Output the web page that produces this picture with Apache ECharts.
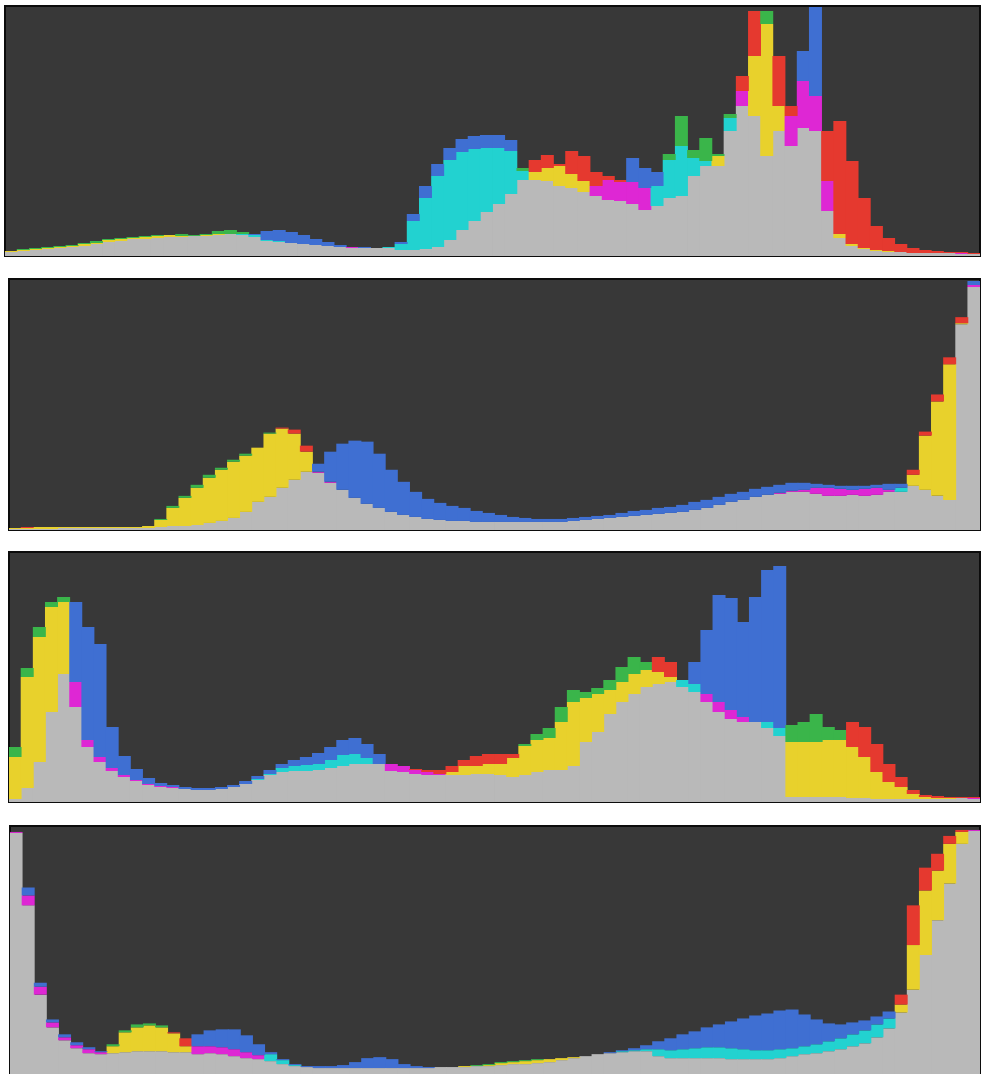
<!DOCTYPE html>
<html lang="en">
<head>
    <meta charset="UTF-8">
    <title>RGB Histograms</title>
    <script src="https://cdn.jsdelivr.net/npm/echarts@6/dist/echarts.min.js"></script>
    <style>
        html, body, #chart {
            width: 983px;
            height: 1074px;
            padding: 0;
            margin: 0;
            background: #fff;
            overflow: hidden;
        }
    </style>
</head>
<body>
<div id="chart"></div>
<script>
    // 80 bins per histogram, heights per channel
    var p1R = [5,6,7,8,9,10,12,13,16,17, 18,19,20,21,20,20,21,22,22,21, 19,15,14,13,12,11,10,9,9,8,
        8,8,6,6,7,9,16,26,35,44, 52,62,76,96,101,92,105,100,84,80, 76,74,68,50,58,60,80,90,100,125,
        180,245,232,200,150,175,160,125,135,95, 58,30,18,12,8,6,5,4,4,3];
    var p1G = [5,7,8,9,10,11,13,15,17,18, 19,20,21,21,22,21,22,25,26,24, 21,16,15,13,12,11,10,9,8,8,
        8,9,12,35,58,80,96,104,107,108, 108,105,88,84,88,90,82,75,60,56, 55,52,46,70,102,140,106,118,102,142,
        150,200,245,150,110,128,125,45,22,12, 8,6,5,4,3,3,3,3,2,2];
    var p1B = [4,5,6,7,8,9,10,12,14,15, 17,17,18,19,19,20,20,21,22,22, 22,25,26,24,21,17,14,11,9,9,
        8,9,14,42,70,92,108,117,120,121, 121,116,85,76,75,70,68,64,70,76, 74,98,88,84,96,110,98,95,90,138,
        165,140,100,125,140,205,249,75,18,10, 7,5,4,4,3,3,3,3,3,2];

    var p2R = [2,3,3,3,3,3,3,3,3,3, 3,4,10,22,32,42,52,60,68,74, 82,96,102,100,84,58,48,40,32,26,
        22,18,15,13,11,10,9,9,8,8, 8,8,8,8,8,8,9,10,11,12, 13,14,15,16,17,18,20,22,25,28,
        30,33,35,37,39,40,42,42,41,40, 41,42,40,38,60,98,135,172,212,244];
    var p2G = [2,2,3,3,3,3,3,3,3,3, 3,4,11,24,34,45,55,62,70,76, 82,97,101,96,78,57,47,40,32,26,
        22,18,15,13,11,10,9,9,8,8, 8,8,8,8,8,8,9,10,11,12, 13,14,15,16,17,18,20,22,25,28,
        30,33,35,36,38,38,36,34,34,35, 34,35,38,42,55,94,128,165,206,242];
    var p2B = [1,1,1,1,2,2,2,2,2,2, 2,2,3,4,4,5,7,9,12,18, 28,33,42,50,58,66,78,86,89,88,
        76,60,48,38,31,27,24,22,19,17, 15,13,12,11,11,11,12,13,14,15, 17,19,20,22,23,25,28,30,33,36,
        38,41,43,45,47,47,46,45,44,44, 44,45,46,46,44,40,34,30,205,248];

    var p3R = [45,125,165,195,200,120,62,45,34,27, 22,18,16,15,13,12,12,13,15,18, 22,27,30,31,31,32,34,36,38,38,
        38,38,36,33,32,32,36,42,46,48, 48,48,56,62,64,80,100,104,108,112, 120,128,132,145,140,115,110,108,100,92,
        85,80,74,66,60,60,60,62,62,80, 75,58,38,25,12,7,6,5,5,5];
    var p3G = [55,134,175,200,205,95,55,40,31,25, 21,17,15,14,13,12,12,13,15,18, 23,28,34,36,37,38,42,47,48,44,
        38,31,30,28,27,27,30,36,36,38, 38,44,58,68,74,95,112,110,114,122, 135,145,140,130,125,122,118,100,90,83,
        80,80,80,74,77,80,88,75,72,55, 45,30,20,15,8,5,4,4,4,3];
    var p3B = [3,14,40,90,128,200,175,158,75,46, 33,24,19,17,15,14,14,15,17,21, 26,32,38,42,45,49,55,62,64,58,
        48,38,36,32,30,28,27,27,28,28, 27,25,27,30,32,32,36,60,70,88, 100,108,115,118,120,122,140,172,207,204,
        180,205,232,236,5,5,5,5,5,4, 4,3,3,3,3,3,3,3,4,4];

    var p4R = [244,180,88,52,37,29,25,22,28,42, 47,49,47,42,36,28,28,27,25,22, 19,13,10,8,7,6,6,6,6,6,
        6,6,6,6,6,7,7,8,8,9, 11,12,13,14,15,16,17,18,20,21, 22,23,23,18,16,16,16,16,16,15,
        15,15,15,16,18,20,21,23,25,28, 31,37,46,80,170,208,222,240,246,246];
    var p4G = [243,170,80,47,34,26,21,20,30,44, 50,51,49,41,28,20,21,20,18,16, 15,20,14,9,7,6,6,6,6,6,
        6,6,6,6,6,7,7,8,9,10, 12,13,14,15,15,16,17,18,20,21, 23,24,25,25,24,25,26,27,27,26,
        25,24,24,25,26,28,30,33,36,40, 44,50,56,70,130,185,205,232,244,245];
    var p4B = [244,188,92,55,40,32,27,23,21,22, 23,23,23,22,22,40,44,45,45,39, 30,22,15,10,8,8,8,9,12,16,
        17,15,10,8,7,7,7,7,8,8, 9,10,10,11,12,14,16,18,20,22, 24,26,29,33,36,40,43,47,50,53,
        56,59,61,64,65,60,55,51,50,52, 54,58,63,62,85,120,155,192,232,246];

    var panels = [
        {r: p1R, g: p1G, b: p1B, left: 5, top: 6, width: 975, height: 250},
        {r: p2R, g: p2G, b: p2B, left: 9, top: 279, width: 971, height: 251},
        {r: p3R, g: p3G, b: p3B, left: 9, top: 552, width: 971, height: 250},
        {r: p4R, g: p4G, b: p4B, left: 10, top: 826, width: 970, height: 250}
    ];

    var GRAY = "#b9b9b9";
    var PURE = {r: "#e5392f", g: "#3ab54a", b: "#3f6fd2"};
    var MIX = {rg: "#e8d12c", gr: "#e8d12c", gb: "#22d2d0", bg: "#22d2d0", rb: "#de27d4", br: "#de27d4"};

    function item(v, color) {
        return {value: v, itemStyle: {color: color}};
    }

    var grids = [], xAxes = [], yAxes = [], series = [];
    panels.forEach(function (p, k) {
        grids.push({
            left: p.left, top: p.top, width: p.width, height: p.height,
            show: true, backgroundColor: "#383838", borderColor: "#0c0c0c", borderWidth: 2
        });
        var cats = p.r.map(function (v, i) { return i; });
        xAxes.push({type: "category", gridIndex: k, data: cats, show: false, boundaryGap: true});
        yAxes.push({type: "value", gridIndex: k, min: 0, max: 250, show: false, splitLine: {show: false}});

        // gray where all three channels overlap, mixed colour where two do, pure colour on top
        var base = [], mid = [], top = [];
        for (var i = 0; i < p.r.length; i++) {
            var ch = [["r", p.r[i]], ["g", p.g[i]], ["b", p.b[i]]];
            ch.sort(function (a, b) { return b[1] - a[1]; });
            base.push(item(ch[2][1], GRAY));
            mid.push(item(ch[1][1] - ch[2][1], MIX[ch[0][0] + ch[1][0]]));
            top.push(item(ch[0][1] - ch[1][1], PURE[ch[0][0]]));
        }
        [base, mid, top].forEach(function (d) {
            series.push({
                type: "bar",
                xAxisIndex: k,
                yAxisIndex: k,
                stack: "h" + k,
                barWidth: 13,
                silent: true,
                data: d
            });
        });
    });

    var myChart = echarts.init(document.getElementById("chart"));
    myChart.setOption({
        animation: false,
        backgroundColor: "#ffffff",
        grid: grids,
        xAxis: xAxes,
        yAxis: yAxes,
        series: series
    });
</script>
</body>
</html>
